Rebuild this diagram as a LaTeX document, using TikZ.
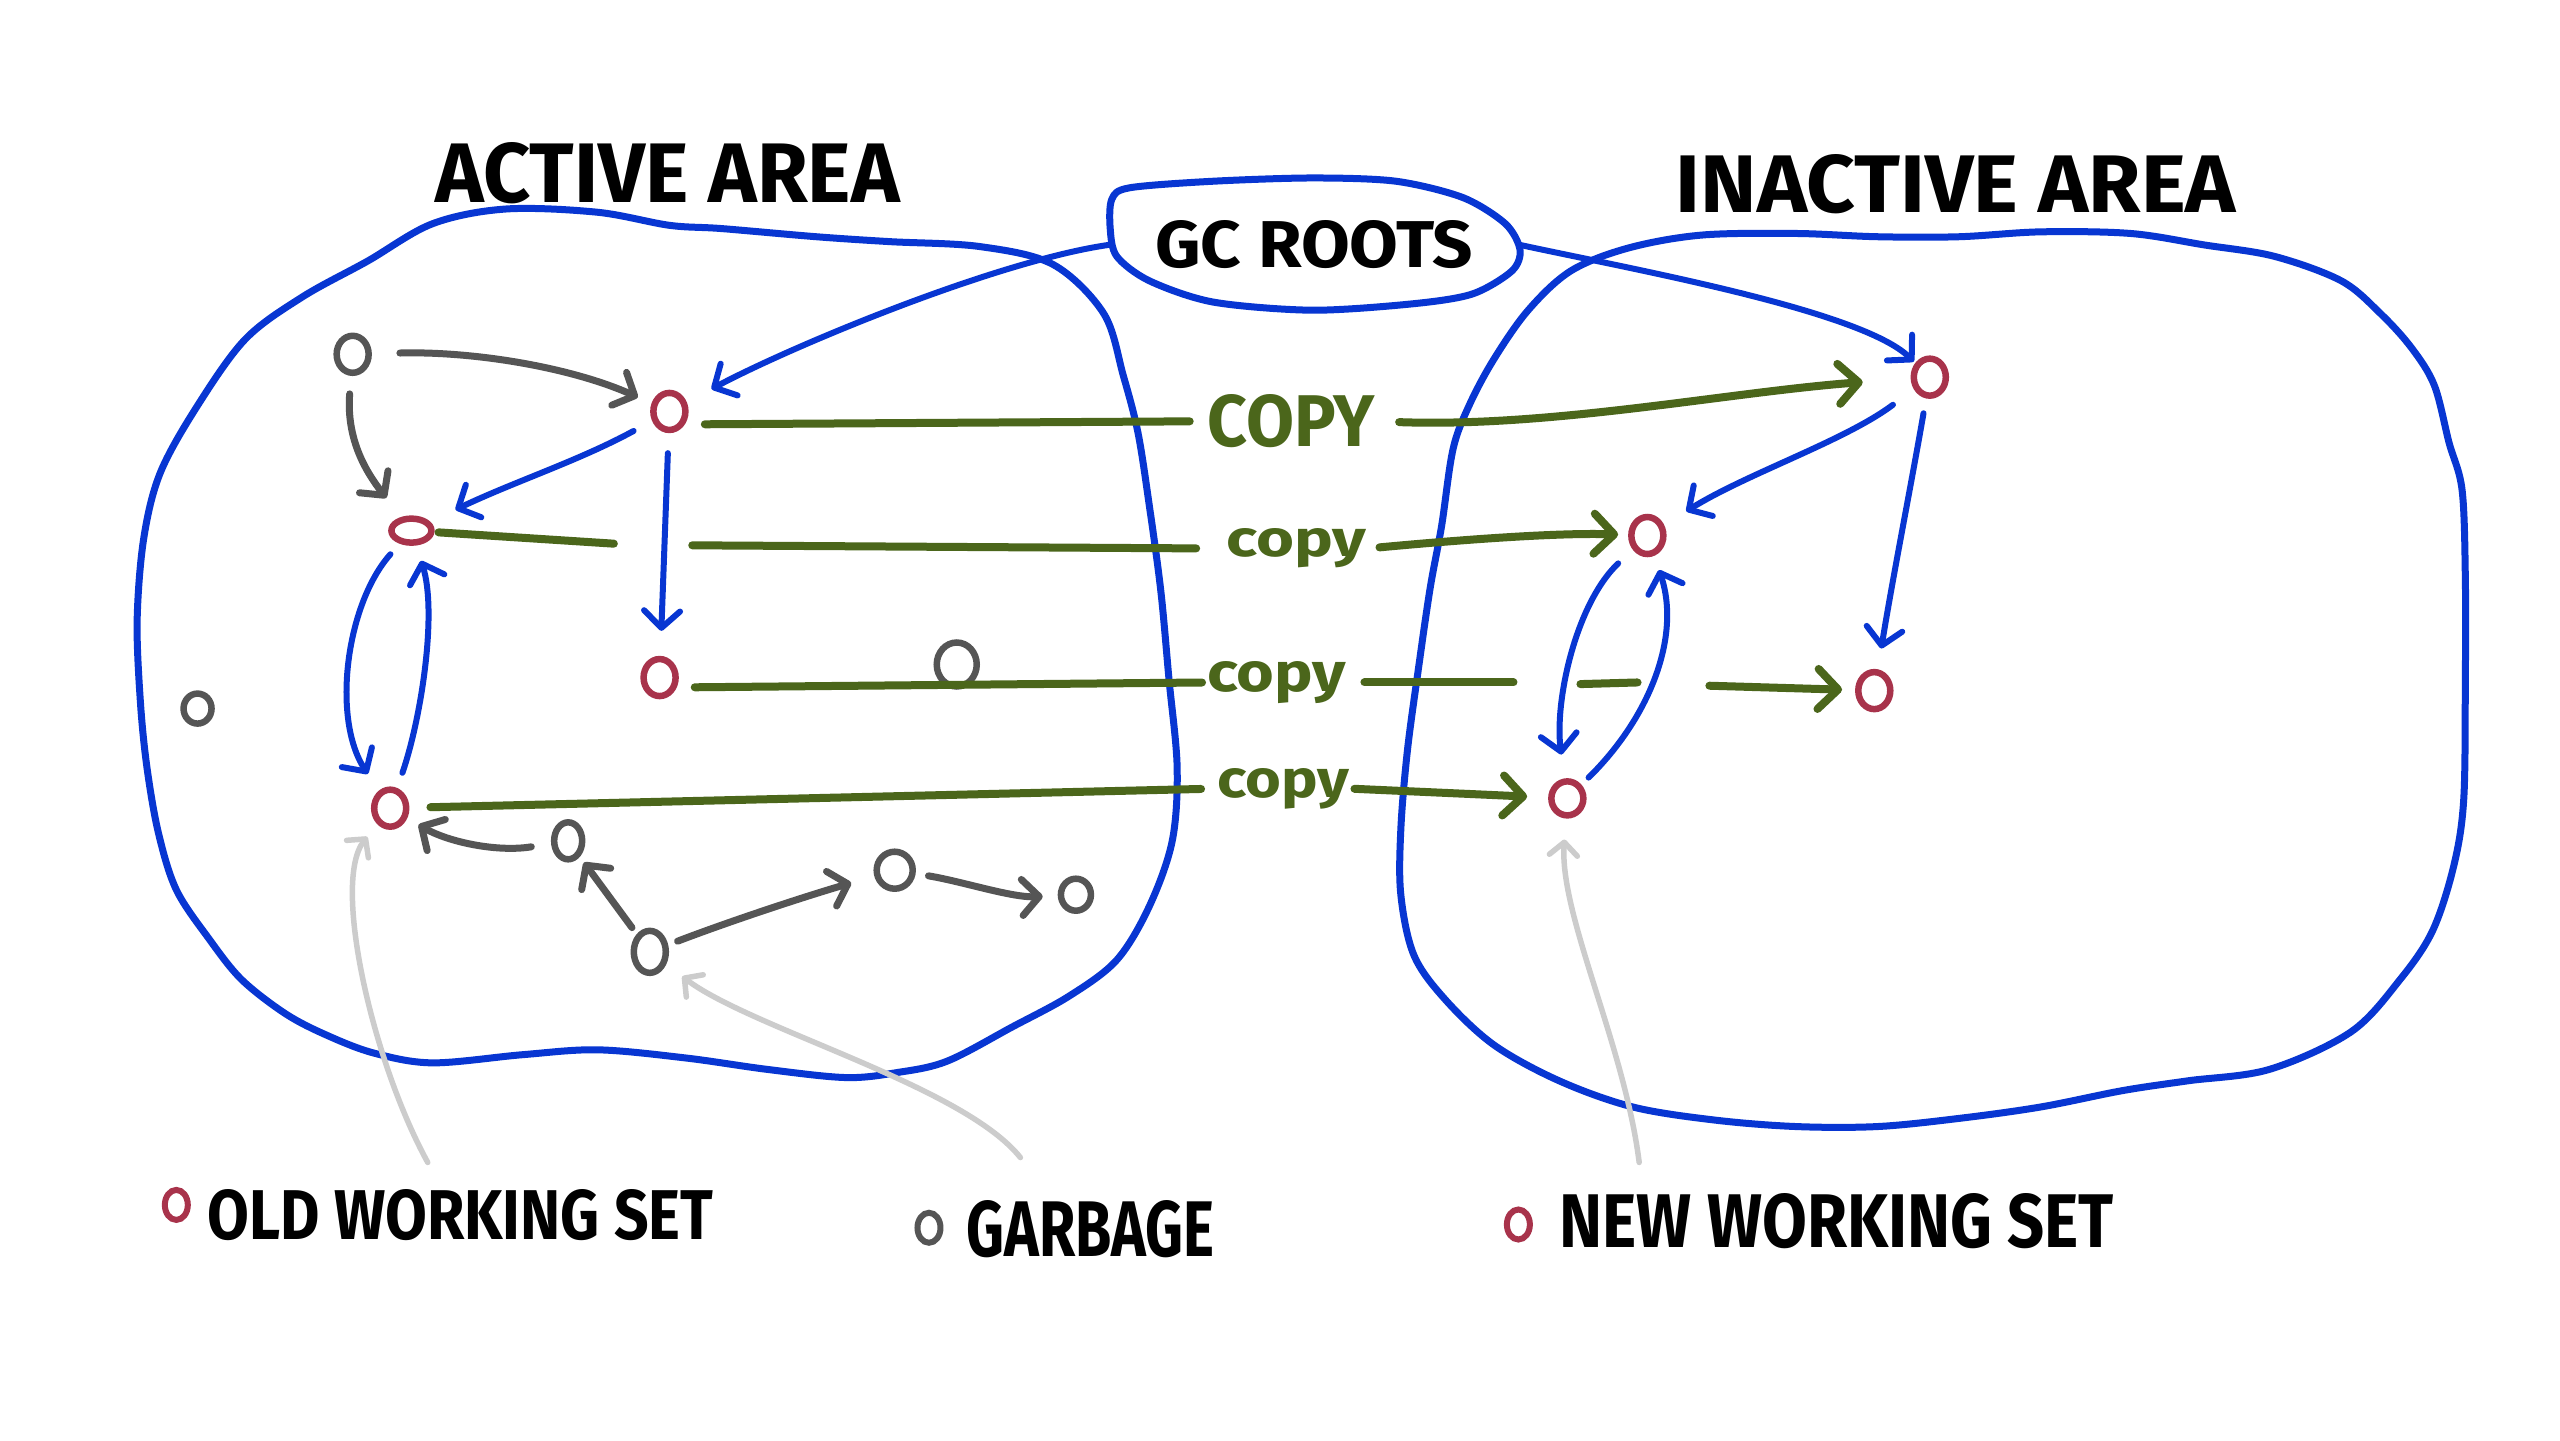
\documentclass[tikz,border=0pt]{standalone}
\usepackage{fontspec}
\usepackage{graphicx}
\setmainfont{Fira Sans}
\usetikzlibrary{arrows.meta,shapes.geometric}
\definecolor{areaBlue}{HTML}{0836D2}
\definecolor{liveRed}{HTML}{A8334B}
\definecolor{deadGray}{HTML}{555555}
\definecolor{noteGray}{HTML}{CCCCCC}
\definecolor{copyGreen}{HTML}{4B661B}
\newcommand{\fitto}[3]{\resizebox{#1}{#2}{\bfseries #3}}
\begin{document}
\begin{tikzpicture}[x=1.6327pt, y=-1.6327pt,
 obj/.style={ellipse, line width=6.5pt, minimum width=32pt, minimum height=37pt, inner sep=0pt},
 live/.style={obj, draw=liveRed},
 dead/.style={obj, draw=deadGray},
 keymark/.style={ellipse, line width=6pt, minimum width=23pt, minimum height=30pt, inner sep=0pt},
 area/.style={draw=areaBlue, line width=7pt, line join=round, line cap=round},
 ptr/.style={draw=areaBlue, line width=6pt, line cap=round, -{Straight Barb[length=17pt,width=36pt,round]}},
 gptr/.style={draw=deadGray, line width=7pt, line cap=round, -{Straight Barb[length=17pt,width=36pt,round]}},
 nptr/.style={draw=noteGray, line width=5.5pt, line cap=round, -{Straight Barb[length=13pt,width=28pt,round]}},
 cpline/.style={draw=copyGreen, line width=8pt, line cap=round},
 cparrow/.style={cpline, -{Straight Barb[length=20pt,width=40pt,round]}},
 txt/.style={inner sep=0pt, text=black},
 cptxt/.style={inner sep=0pt, text=copyGreen},
]
\fill[white] (0,0) rectangle (1568,882);
\useasboundingbox (0,0) rectangle (1568,882);

% ---- areas ----
\draw[area] plot[smooth cycle, tension=0.55] coordinates {
 (120,250) (150,208) (185,182) (225,160) (265,137) (310,128) (366,130) (410,138)
 (442,140) (500,145) (545,148) (600,151) (645,162) (676,192) (688,230) (697,265)
 (704,310) (711,362) (716,416) (721,470) (718,515) (704,555) (684,588) (655,610)
 (620,629) (580,650) (549,657) (518,660) (470,655) (420,648) (366,643) (320,646)
 (265,651) (229,645) (200,634) (175,621) (148,600) (128,575) (108,545) (97,510)
 (90,470) (86,430) (84,380) (88,330) (98,290)};
\draw[area] plot[smooth cycle, tension=0.55] coordinates {
 (1042,144) (1100,143) (1150,145) (1200,145) (1250,142) (1305,143) (1350,150)
 (1393,157) (1434,172) (1458,192) (1477,213) (1491,236) (1500,271) (1508,300)
 (1510,353) (1510,420) (1509,490) (1503,530) (1490,570) (1470,600) (1440,632)
 (1390,655) (1340,662) (1300,668) (1250,678) (1200,685) (1150,690) (1100,690)
 (1050,686) (1000,678) (955,662) (915,640) (885,612) (866,585) (858,548)
 (858,508) (862,460) (869,408) (876,360) (883,322) (890,275) (900,248)
 (915,220) (936,190) (962,166) (997,152)};
\draw[area] plot[smooth cycle, tension=0.5] coordinates {
 (680,140) (681,122) (692,115) (743,111) (804,109) (855,111) (896,121) (922,137)
 (931,153) (926,166) (902,180) (866,186) (804,190) (743,185) (704,172) (684,157)};

% ---- labels ----
\node[txt] (activeLbl) at (409,106) {\fitto{464pt}{60pt}{ACTIVE AREA}};
\node[txt] (inactiveLbl) at (1198,113) {\fitto{560pt}{58pt}{INACTIVE AREA}};
\node[txt, minimum width=411pt, minimum height=114pt] (gc) at (805,150) {\fitto{318pt}{47pt}{GC ROOTS}};

\node[cptxt] (c1) at (791,258) {\fitto{167pt}{52pt}{COPY}};
\node[cptxt] (c2) at (794,336) {\fitto{140pt}{28pt}{copy}};
\node[cptxt] (c3) at (782,418) {\fitto{139pt}{30pt}{copy}};
\node[cptxt] (c4) at (786,483) {\fitto{132pt}{29pt}{copy}};

% ---- objects ----
\node[dead] (G1) at (216,217) {};
\node[live] (R1) at (410,252) {};
\node[live, minimum width=40pt, minimum height=24pt] (R2) at (252,325) {};
\node[live] (R3) at (404,415) {};
\node[dead, minimum width=40pt, minimum height=44pt] (G2) at (586,407) {};
\node[dead, minimum width=28pt, minimum height=30pt] (G3) at (121,434) {};
\node[live] (R4) at (239,495) {};
\node[dead, minimum width=28pt] (G4) at (348,515) {};
\node[dead, minimum width=36pt] (G5) at (548,533) {};
\node[dead, minimum width=30pt, minimum height=32pt] (G6) at (659,548) {};
\node[dead, minimum height=42pt] (G7) at (398,583) {};

\node[live] (N1) at (1182,231) {};
\node[live] (N2) at (1009,328) {};
\node[live] (N3) at (1148,423) {};
\node[live, minimum height=34pt] (N4) at (960,489) {};

% ---- legend ----
\node[keymark, draw=liveRed] (k1) at (108,738) {};
\node[txt] (t1) at (282,744) {\fitto{506pt}{50pt}{OLD WORKING SET}};
\node[keymark, draw=deadGray] (k2) at (569,752) {};
\node[txt] (t2) at (668,753) {\fitto{248pt}{56pt}{GARBAGE}};
\node[keymark, draw=liveRed] (k3) at (930,750) {};
\node[txt] (t3) at (1125,748) {\fitto{554pt}{54pt}{NEW WORKING SET}};

\coordinate (a1) at (262,712);
\coordinate (a2) at (625,709);
\coordinate (a3) at (1004,712);

% ---- root references ----
\draw[ptr, shorten >=28pt] (gc.west) .. controls (610,160) and (485,212) .. (R1);
\draw[ptr, shorten >=2pt] (gc.east) .. controls (1000,165) and (1140,190) .. (N1);

% ---- active area references ----
\draw[ptr, shorten <=21pt, shorten >=28pt] (R1) .. controls (355,282) and (315,295) .. (R2);
\draw[ptr, shorten <=20pt, shorten >=25pt] (R1) -- (R3);
\draw[ptr, shorten <=14pt, shorten >=20pt] (R2) .. controls (212,370) and (203,440) .. (R4);
\draw[ptr, shorten <=16pt, shorten >=16pt] (R4) .. controls (258,440) and (268,375) .. (R2);

% ---- inactive area references ----
\draw[ptr, shorten <=26pt, shorten >=26pt] (N1) .. controls (1130,270) and (1070,290) .. (N2);
\draw[ptr, shorten <=15pt, shorten >=21pt] (N1) .. controls (1170,300) and (1160,350) .. (N3);
\draw[ptr, shorten <=20pt, shorten >=24pt] (N2) .. controls (965,370) and (952,430) .. (N4);
\draw[ptr, shorten <=10pt, shorten >=15pt] (N4) .. controls (1010,440) and (1030,390) .. (N2);

% ---- garbage references ----
\draw[gptr, shorten <=28pt, shorten >=15pt] (G1) .. controls (290,215) and (350,225) .. (R1);
\draw[gptr, shorten <=18pt, shorten >=24pt] (G1) .. controls (212,270) and (225,290) .. (R2);
\draw[gptr, shorten <=20pt, shorten >=13pt] (G4) .. controls (305,522) and (275,516) .. (R4);
\draw[gptr, shorten <=8pt, shorten >=7pt] (G7) -- (G4);
\draw[gptr, shorten <=10pt, shorten >=24pt] (G7) .. controls (445,565) and (490,550) .. (G5);
\draw[gptr, shorten <=13pt, shorten >=15pt] (G5) .. controls (590,540) and (620,550) .. (G6);

% ---- legend pointers ----
\draw[nptr, shorten >=16pt] (a1) .. controls (228,650) and (203,540) .. (R4);
\draw[nptr, shorten >=20pt] (a2) .. controls (590,665) and (460,630) .. (G7);
\draw[nptr, shorten >=21pt] (a3) .. controls (995,640) and (955,560) .. (N4);

% ---- copies ----
\coordinate (g2a) at (376,333);
\coordinate (g2b) at (424,334);
\coordinate (g3a) at (927,418);
\coordinate (g3b) at (968,419);
\coordinate (g3c) at (1003,418);
\coordinate (g3d) at (1047,420);

\draw[cpline, shorten <=20pt, shorten >=18pt] (R1.-40) -- (c1.west);
\draw[cparrow, shorten <=24pt, shorten >=48pt] (c1.east) .. controls (950,262) and (1060,240) .. (N1);

\draw[cpline, shorten <=4pt] (R2) -- (g2a);
\draw[cpline, shorten >=30pt] (g2b) -- (c2.west);
\draw[cparrow, shorten <=13pt, shorten >=10pt] (c2.east) .. controls (880,332) and (950,326) .. (N2);

\draw[cpline, shorten <=18pt, shorten >=5pt] (R3.-30) -- (c3.west);
\draw[cpline, shorten <=18pt] (c3.east) -- (g3a);
\draw[cpline] (g3b) -- (g3c);
\draw[cparrow, shorten >=13pt] (g3d) -- (N3);

\draw[cpline, shorten <=21pt, shorten >=16pt] (R4) -- (c4.west);
\draw[cparrow, shorten <=5pt, shorten >=21pt] (c4.east) -- (N4);
\end{tikzpicture}
\end{document}
